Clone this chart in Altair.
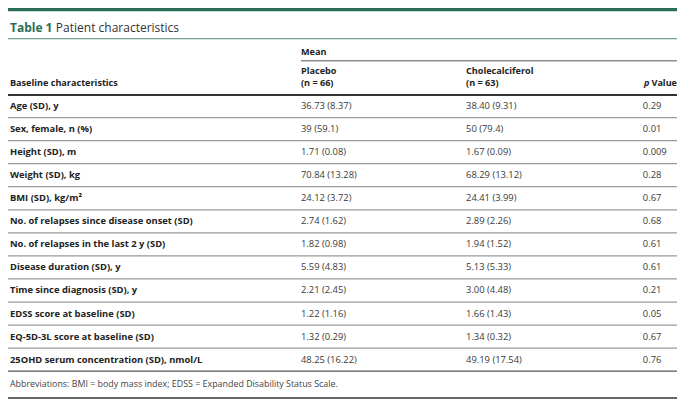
import altair as alt
import pandas as pd

# ---- table content ----
characteristics = [
    "Age (SD), y",
    "Sex, female, n (%)",
    "Height (SD), m",
    "Weight (SD), kg",
    "BMI (SD), kg/m²",
    "No. of relapses since disease onset (SD)",
    "No. of relapses in the last 2 y (SD)",
    "Disease duration (SD), y",
    "Time since diagnosis (SD), y",
    "EDSS score at baseline (SD)",
    "EQ-5D-3L score at baseline (SD)",
    "25OHD serum concentration (SD), nmol/L",
]
placebo = [
    "36.73 (8.37)", "39 (59.1)", "1.71 (0.08)", "70.84 (13.28)", "24.12 (3.72)",
    "2.74 (1.62)", "1.82 (0.98)", "5.59 (4.83)", "2.21 (2.45)", "1.22 (1.16)",
    "1.32 (0.29)", "48.25 (16.22)",
]
cholecalciferol = [
    "38.40 (9.31)", "50 (79.4)", "1.67 (0.09)", "68.29 (13.12)", "24.41 (3.99)",
    "2.89 (2.26)", "1.94 (1.52)", "5.13 (5.33)", "3.00 (4.48)", "1.66 (1.43)",
    "1.34 (0.32)", "49.19 (17.54)",
]
p_values = ["0.29", "0.01", "0.009", "0.28", "0.67", "0.68", "0.61", "0.61",
            "0.21", "0.05", "0.67", "0.76"]

title_bold = "Table 1"
title_text = "Patient characteristics"
group_header = "Mean"
col_headers = [["Placebo", "(n = 66)"], ["Cholecalciferol", "(n = 63)"]]
row_header = "Baseline characteristics"
footnote = "Abbreviations: BMI = body mass index; EDSS = Expanded Disability Status Scale."

# ---- layout ----
W, H = 669, 393
KX, KY = W / 685, H / 409
def X(p): return p * KX
def Y(p): return p * KY
FONT = "Open Sans"
GREEN = "#2b6e55"
FS = 9.4
HFS = 9.1

n = len(characteristics)
df = pd.DataFrame({
    "row": list(range(n)),
    "label": characteristics,
    "placebo": placebo,
    "chole": cholecalciferol,
    "p": p_values,
})
sep = pd.DataFrame({"row": [i + 0.5 for i in range(n - 1)]})
last = pd.DataFrame({"row": [n - 0.5]})

yscale = alt.Scale(domain=[0, n - 1], range=[Y(102), Y(366)])
yenc = alt.Y("row:Q", scale=yscale, axis=None)

base = alt.Chart(df)

def txt(x, field, weight="normal", color="#3a3a3a"):
    return base.mark_text(align="left", baseline="middle", font=FONT,
                          fontSize=FS, fontWeight=weight, color=color).encode(
        x=alt.value(X(x)), y=yenc, text=f"{field}:N")

labels = txt(2, "label", weight="bold", color="#222222")
col1 = txt(300, "placebo")
col2 = txt(469, "chole")
col3 = txt(650, "p")

seps = alt.Chart(sep).mark_rule(color="#9a9a9a", strokeWidth=1.2).encode(
    x=alt.value(0), x2=alt.value(W), y=yenc)
last_rule = alt.Chart(last).mark_rule(color="#555555", strokeWidth=1.3).encode(
    x=alt.value(0), x2=alt.value(W), y=yenc)

one = pd.DataFrame({"k": [0]})

def static_text(text, x, y, size=HFS, weight="normal", color="#222222",
                align="left", style="normal"):
    return alt.Chart(one).mark_text(
        text=text, align=align, baseline="middle", font=FONT, fontSize=size,
        fontWeight=weight, color=color, fontStyle=style).encode(
        x=alt.value(X(x)), y=alt.value(Y(y)))

def hrule(y, x1, x2, color, width):
    return alt.Chart(one).mark_rule(color=color, strokeWidth=width).encode(
        x=alt.value(X(x1)), x2=alt.value(X(x2)), y=alt.value(Y(y)))

layers = [
    hrule(1.5, 0, 685, GREEN, 3.5),
    alt.Chart(one).mark_text(text=title_bold, align="left", baseline="alphabetic",
                             font=FONT, fontSize=12.5 * KY, fontWeight="bold",
                             color=GREEN).encode(x=alt.value(X(2)), y=alt.value(Y(25))),
    alt.Chart(one).mark_text(text=title_text, align="left", baseline="alphabetic",
                             font=FONT, fontSize=12.5 * KY, color="#333333").encode(
        x=alt.value(X(49)), y=alt.value(Y(25))),
    hrule(32, 0, 685, "#4f8a74", 1),
    static_text(group_header, 300, 46, weight="bold"),
    hrule(55, 300, 685, "#555555", 1),
    static_text(col_headers[0][0], 300, 66, weight="bold"),
    static_text(col_headers[0][1], 300, 78.5, weight="bold"),
    static_text(col_headers[1][0], 469, 66, weight="bold"),
    static_text(col_headers[1][1], 469, 78.5, weight="bold"),
    static_text(row_header, 2, 78.5, weight="bold"),
    static_text("p", 685, 78.5, weight="bold", style="italic", align="right"
                ).encode(x=alt.value(X(685) - 27.5)),
    static_text("Value", 685, 78.5, weight="bold", align="right"),
    hrule(90.5, 0, 685, "#333333", 2),
    seps, last_rule,
    labels, col1, col2, col3,
    static_text(footnote, 2, 391, size=8.9, color="#444444"),
    hrule(406, 0, 685, "#333333", 1.5),
]

chart = alt.layer(*layers).properties(
    width=W, height=H, padding=0, autosize="none", background="white"
).configure_view(stroke=None)

chart.save("out.html", embed_options={"renderer": "svg", "actions": False})
